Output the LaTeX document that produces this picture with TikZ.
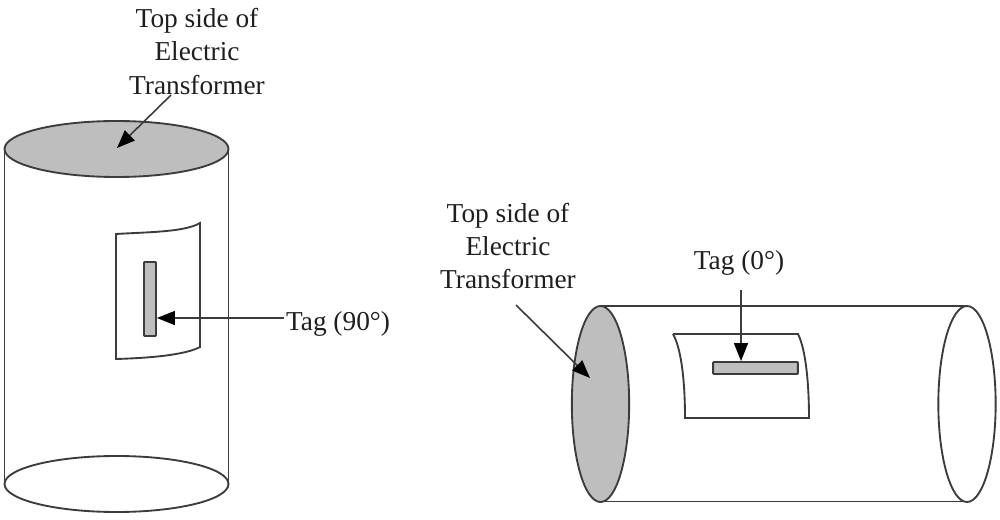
\documentclass[tikz,border=0pt]{standalone}
\usepackage{fontspec}
\setmainfont{Liberation Serif}
\usetikzlibrary{arrows.meta,shapes.geometric}
\definecolor{ink}{HTML}{3C3C3C}
\definecolor{shade}{HTML}{BEBEBE}
\tikzset{
  x=0.75pt,y=-0.75pt,
  outline/.style={draw=ink,line width=1.4pt},
  capface/.style={outline,ellipse,inner sep=0pt,minimum width=#1},
  tagbar/.style={outline,fill=shade,rectangle,rounded corners=0.5pt,inner sep=0pt},
  lbl/.style={font=\fontsize{20.5pt}{25pt}\selectfont,text=black!88,inner sep=0pt,anchor=base},
  pointer/.style={draw=ink,line width=1.2pt,-{Triangle[length=13.5pt,width=10.5pt,fill=black,color=black]}},
}
\begin{document}
\begin{tikzpicture}
\useasboundingbox (0,0) rectangle (1000,520);
\fill[white] (0,0) rectangle (1000,520);
% left cylinder
\node[capface=168pt,minimum height=42pt] (lbot) at (116.5,484) {};
\draw[outline] (4.5,149) -- (4.5,484) (228.5,149) -- (228.5,484);
\node[capface=168pt,minimum height=42pt,fill=shade] (ltop) at (116.5,149) {};
\draw[outline] (116,234) .. controls (150,232) and (185,232) .. (200,223)
  -- (200,347) .. controls (185,355) and (150,358) .. (116,359) -- cycle;
\node[tagbar,minimum width=9pt,minimum height=55.5pt] (ltag) at (150,299) {};
% left labels
\node[lbl] (lt1) at (197,28) {Top side of};
\node[lbl] (lt2) at (197,61) {Electric};
\node[lbl] (lt3) at (197,95) {Transformer};
\node[lbl] (ltl) at (338,331) {Tag (90°)};
\coordinate (la1) at (171,95);
\coordinate (la2) at (117,148);
\coordinate (lb1) at (284,318);
\coordinate (lb2) at (ltag.east |- lb1);
\draw[pointer] (la1) -- (la2);
\draw[pointer] (lb1) -- (lb2);
% right cylinder
\draw[outline] (600.5,306) -- (968,306) (600.5,501.5) -- (968,501.5);
\node[capface=43pt,minimum height=147pt] (rend) at (967,404) {};
\node[capface=43pt,minimum height=147pt,fill=shade] (rtop) at (600.5,404) {};
\draw[outline] (673,334) -- (798,334) .. controls (806,350) and (809,385) .. (809,418)
  -- (685,418) .. controls (685,385) and (682,350) .. (673,334);
\node[tagbar,minimum width=63.5pt,minimum height=9pt] (rtag) at (755.5,368) {};
% right labels
\node[lbl] (rt1) at (508,223) {Top side of};
\node[lbl] (rt2) at (508,256) {Electric};
\node[lbl] (rt3) at (508,289) {Transformer};
\node[lbl] (rtl) at (739,270) {Tag (0°)};
\coordinate (ra1) at (516,305);
\coordinate (ra2) at (590,378);
\coordinate (rb1) at (741,290);
\coordinate (rb2) at (rb1 |- rtag.north);
\draw[pointer] (ra1) -- (ra2);
\draw[pointer] (rb1) -- (rb2);
\end{tikzpicture}
\end{document}
